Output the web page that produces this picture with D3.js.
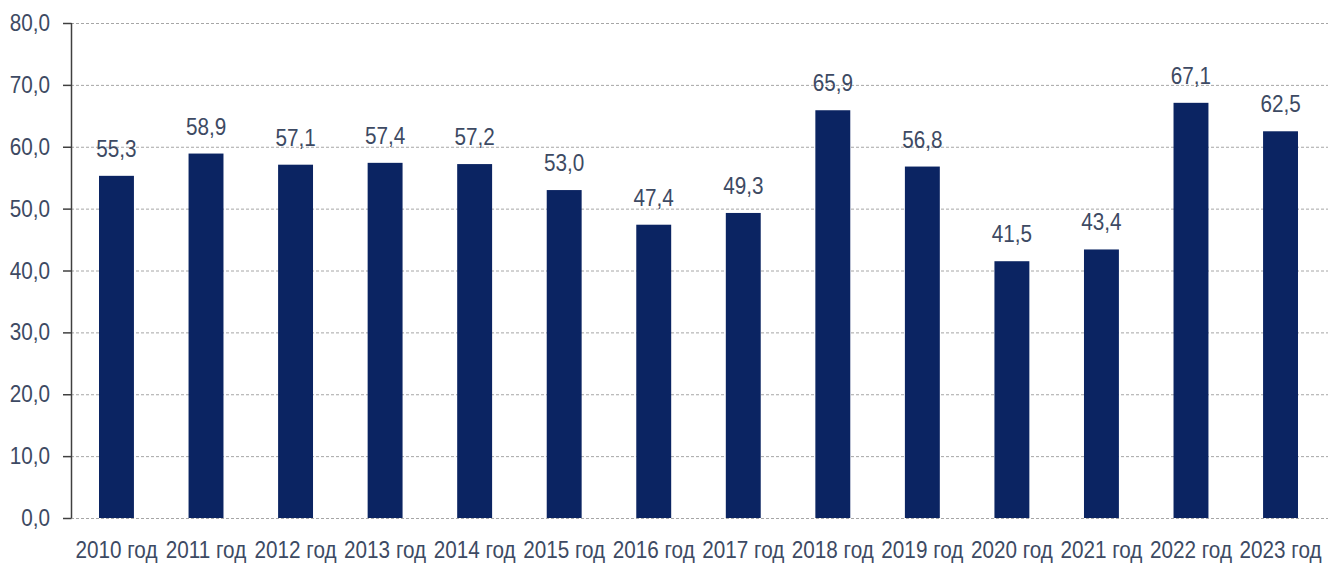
<!DOCTYPE html>
<meta charset="utf-8">
<head>
    <script type="text/javascript" src="https://cdn.jsdelivr.net/npm/d3@7"></script>
	<style>
      body { margin: 0; background: #fff; }
      text { font-family: "Liberation Sans", Arial, sans-serif; fill: #3d4a63; }
      .grid line { stroke: #a6a6a6; stroke-dasharray: 3,2; }
	</style>
</head>
<body>
    <div id="chart"></div>
    <script>
    // data
    var years = ["2010 год","2011 год","2012 год","2013 год","2014 год","2015 год","2016 год",
                 "2017 год","2018 год","2019 год","2020 год","2021 год","2022 год","2023 год"];
    var values = [55.3, 58.9, 57.1, 57.4, 57.2, 53.0, 47.4, 49.3, 65.9, 56.8, 41.5, 43.4, 67.1, 62.5];
    var yTicks = [0, 10, 20, 30, 40, 50, 60, 70, 80];

    var w = 1338;
    var h = 565;
    var svg = d3.select("#chart")
            .append("svg")
            .attr("width", w)
            .attr("height", h);

    var x = d3.scaleBand().domain(years).range([71.7, 1325.3])
        .paddingInner(0.61).paddingOuter(0.305);
    var y = d3.scaleLinear().domain([0, 80]).range([518, 23]);
    var fmt = function(v) { return d3.format(".1f")(v).replace(".", ","); };
    var sx = 0.9; // squeeze text a bit, the original font is narrower

    // gridlines
    svg.append("g").attr("class", "grid")
        .selectAll("line").data(yTicks).enter().append("line")
        .attr("x1", 71).attr("x2", 1328)
        .attr("y1", d => y(d) + 0.5).attr("y2", d => y(d) + 0.5);

    // bars
    svg.append("g").selectAll("rect").data(values).enter().append("rect")
        .attr("x", (d, i) => x(years[i]))
        .attr("width", x.bandwidth())
        .attr("y", d => y(d))
        .attr("height", d => y(0) - y(d))
        .attr("fill", "#0b2462");

    // y axis
    svg.append("line").attr("x1", 71.5).attr("x2", 71.5).attr("y1", y(80)).attr("y2", y(0))
        .attr("stroke", "#404040").attr("stroke-width", 1.5);
    svg.append("g").selectAll("line").data(yTicks).enter().append("line")
        .attr("x1", 63).attr("x2", 71.5)
        .attr("y1", d => y(d) + 0.5).attr("y2", d => y(d) + 0.5)
        .attr("stroke", "#404040").attr("stroke-width", 1.5);
    svg.append("g").selectAll("text").data(yTicks).enter().append("text")
        .attr("transform", d => "translate(50," + (y(d) + 8) + ") scale(" + sx + ",1)")
        .attr("text-anchor", "end")
        .attr("font-size", 23)
        .text(d => fmt(d));

    // value labels
    svg.append("g").selectAll("text").data(values).enter().append("text")
        .attr("transform", (d, i) => "translate(" + (x(years[i]) + x.bandwidth() / 2) + "," + (y(d) - 19) + ") scale(" + sx + ",1)")
        .attr("text-anchor", "middle")
        .attr("font-size", 23)
        .text(d => fmt(d));

    // x labels
    svg.append("g").selectAll("text").data(years).enter().append("text")
        .attr("transform", d => "translate(" + (x(d) + x.bandwidth() / 2) + ",558) scale(" + sx + ",1)")
        .attr("text-anchor", "middle")
        .attr("font-size", 23)
        .text(d => d);
    </script>
</body>
</html>
